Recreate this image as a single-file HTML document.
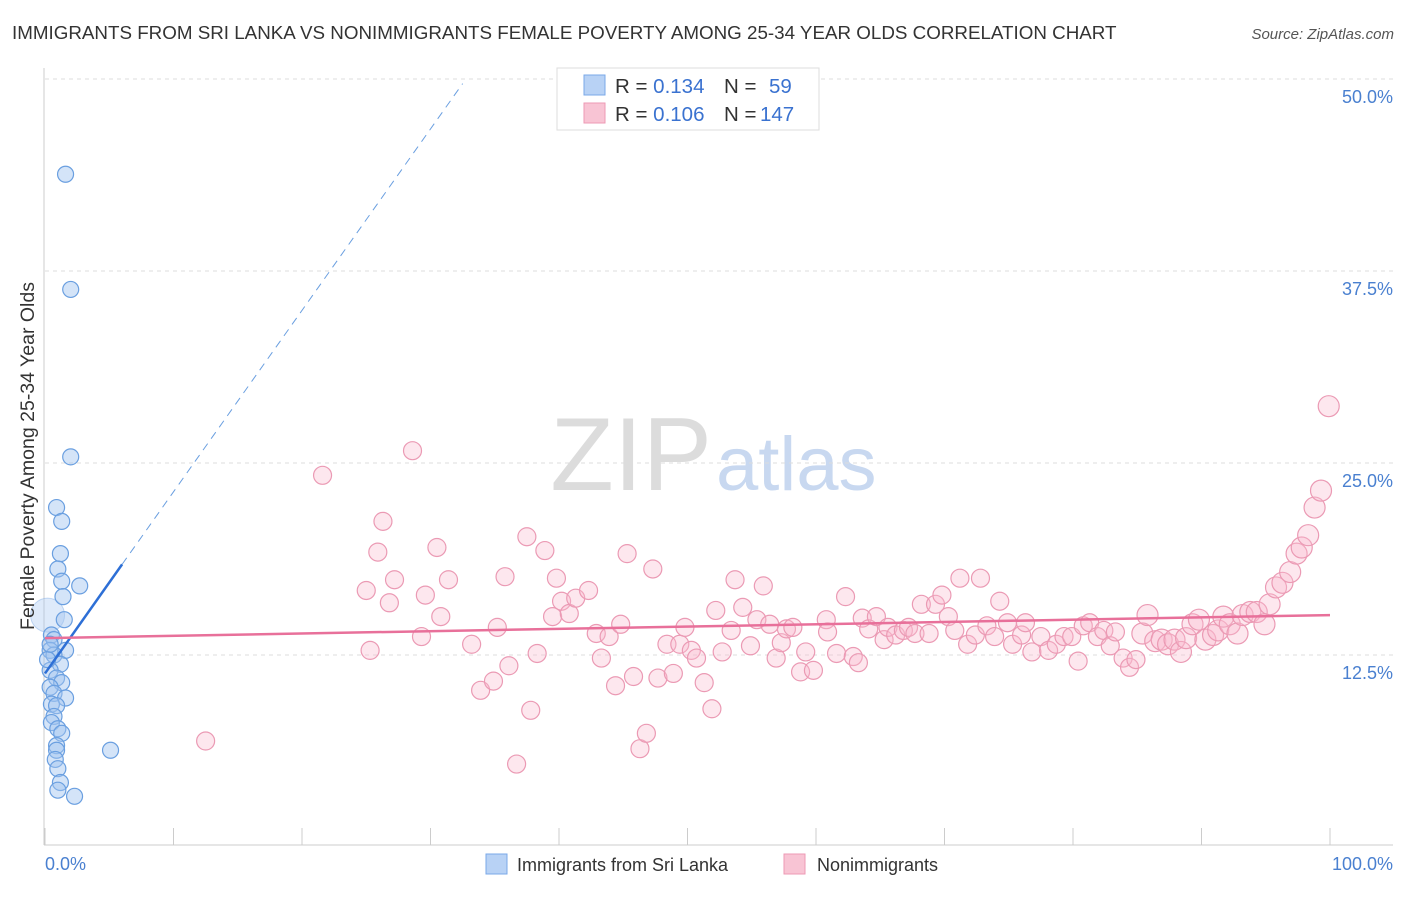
<!DOCTYPE html>
<html><head><meta charset="utf-8"><style>
body{margin:0;background:#fff;font-family:"Liberation Sans",sans-serif}
svg text{font-family:"Liberation Sans",sans-serif}
</style></head><body>
<svg id="c" width="1406" height="892">
<text x="12" y="39" font-size="18.8" fill="#333">IMMIGRANTS FROM SRI LANKA VS NONIMMIGRANTS FEMALE POVERTY AMONG 25-34 YEAR OLDS CORRELATION CHART</text>
<text x="1394" y="39" font-size="15" fill="#555" font-style="italic" text-anchor="end">Source: ZipAtlas.com</text>
<text x="712" y="490" font-size="104" fill="#dcdcdc" text-anchor="end" font-family="Liberation Serif">ZIP</text>
<text x="716" y="490" font-size="76" fill="#c8d8f0">atlas</text>
<g id="grid"></g><g id="pts"></g><g id="lines"></g>
<text transform="translate(34,456) rotate(-90)" font-size="19.5" fill="#333" text-anchor="middle">Female Poverty Among 25-34 Year Olds</text>
<text x="45" y="870" font-size="18" fill="#4a80d0">0.0%</text>
<text x="1393" y="870" font-size="18" fill="#4a80d0" text-anchor="end">100.0%</text>
<g>
<rect x="557" y="68" width="262" height="62" fill="#fff" stroke="#ddd"/>
<rect x="584" y="75" width="21" height="20" fill="#b8d2f5" stroke="#7aa8e8"/>
<rect x="584" y="103" width="21" height="20" fill="#f8c4d4" stroke="#ee9ab4"/>
<text x="615" y="93" font-size="20.5" fill="#333">R = <tspan fill="#3a72d0">0.134</tspan><tspan x="724">N =</tspan><tspan x="769" fill="#3a72d0">59</tspan></text>
<text x="615" y="121" font-size="20.5" fill="#333">R = <tspan fill="#3a72d0">0.106</tspan><tspan x="724">N =</tspan><tspan x="760" fill="#3a72d0">147</tspan></text>
</g>
<g>
<rect x="486" y="854" width="21" height="20" fill="#b8d2f5" stroke="#7aa8e8"/>
<text x="517" y="871" font-size="18" fill="#333">Immigrants from Sri Lanka</text>
<rect x="784" y="854" width="21" height="20" fill="#f8c4d4" stroke="#ee9ab4"/>
<text x="817" y="871" font-size="18" fill="#333">Nonimmigrants</text>
</g>
</svg>
<script>
const yTicks=[12.5,25,37.5,50];
const yTickLabels=["12.5%","25.0%","37.5%","50.0%"];
const xTicks=[0,10,20,30,40,50,60,70,80,90,100];
const blueX=[1.6,2.0,2.0,0.9,1.3,1.2,1.0,1.3,2.7,1.4,1.5,0.5,0.7,1.6,0.4,0.7,1.2,0.4,0.9,1.3,0.4,0.7,1.6,0.5,0.9,0.7,0.5,1.0,1.3,0.9,0.9,0.8,1.0,1.2,1.0,2.3,5.1,0.2,0.4];
const blueY=[43.8,36.3,25.4,22.1,21.2,19.1,18.1,17.3,17.0,16.3,14.8,13.8,13.5,12.8,12.8,12.5,11.9,11.5,11.0,10.7,10.4,10.0,9.7,9.3,9.2,8.5,8.1,7.7,7.4,6.6,6.3,5.7,5.1,4.2,3.7,3.3,6.3,12.2,13.2];
const blueBig=[0.2,15.1];
const pinkX=[12.5,21.6,28.6,26.3,25.9,25.0,27.2,26.8,25.3,29.3,29.6,30.5,31.4,30.8,33.2,33.9,34.9,36.1,35.2,35.8,36.7,37.5,37.8,38.3,38.9,39.5,39.8,40.2,40.8,41.3,42.3,42.9,43.3,43.9,44.8,45.3,44.4,45.8,46.3,46.8,47.3,47.7,48.4,48.9,49.4,49.8,50.3,50.7,51.3,51.9,52.2,52.7,53.7,53.4,54.3,54.9,55.4,55.9,56.4,56.9,57.3,57.7,58.2,58.8,59.2,59.8,60.8,60.9,61.6,62.3,62.9,63.3,63.6,64.1,64.7,65.3,65.6,66.2,66.8,67.2,67.7,68.2,68.8,69.3,69.8,70.3,70.8,71.2,71.8,72.4,72.8,73.3,73.9,74.3,74.9,75.3,76.0,76.3,76.8,77.5,78.1,78.7,79.3,79.9,80.4,80.8,81.3,81.9,82.4,82.9,83.3,83.9,84.4,84.9,85.4,85.8,86.4,86.9,87.4,87.9,88.4,88.8,89.3,89.8,90.3,90.9,91.3,91.7,92.2,92.8,93.2,93.8,94.3,94.9,95.3,95.8,96.3,96.9,97.4,97.8,98.3,98.8,99.3,99.9];
const pinkY=[6.9,24.2,25.8,21.2,19.2,16.7,17.4,15.9,12.8,13.7,16.4,19.5,17.4,15.0,13.2,10.2,10.8,11.8,14.3,17.6,5.4,20.2,8.9,12.6,19.3,15.0,17.5,16.0,15.2,16.2,16.7,13.9,12.3,13.7,14.5,19.1,10.5,11.1,6.4,7.4,18.1,11.0,13.2,11.3,13.2,14.3,12.8,12.3,10.7,9.0,15.4,12.7,17.4,14.1,15.6,13.1,14.8,17.0,14.5,12.3,13.3,14.2,14.3,11.4,12.7,11.5,14.8,14.0,12.6,16.3,12.4,12.0,14.9,14.2,15.0,13.5,14.3,13.8,14.1,14.3,13.9,15.8,13.9,15.8,16.4,15.0,14.1,17.5,13.2,13.8,17.5,14.4,13.7,16.0,14.6,13.2,13.8,14.6,12.7,13.7,12.8,13.2,13.7,13.7,12.1,14.4,14.6,13.7,14.1,13.1,14.0,12.3,11.7,12.2,13.9,15.1,13.4,13.5,13.2,13.5,12.7,13.6,14.5,14.8,13.5,13.8,14.1,15.0,14.5,13.9,15.1,15.3,15.3,14.5,15.8,16.9,17.2,17.9,19.1,19.5,20.3,22.1,23.2,28.7];
const blueTrend=[0,11.3,6,18.4,32.5,49.7];
const pinkTrend=[0,13.6,100,15.1];
const NS="http://www.w3.org/2000/svg";
const X=v=>45+v*12.85, Y=v=>847-v*15.36;
function mk(t,a,p){const e=document.createElementNS(NS,t);for(const k in a)e.setAttribute(k,a[k]);p.appendChild(e);return e;}
const grid=document.getElementById('grid'),pts=document.getElementById('pts'),lines=document.getElementById('lines');
yTicks.forEach((t,i)=>{
 const l=mk('line',{x1:45,x2:1393,y1:Y(t),y2:Y(t),stroke:'#ddd','stroke-dasharray':'4,4'},grid);
 
 
 const tx=mk('text',{x:1393,y:Y(t)+24,'font-size':18,fill:'#4a80d0','text-anchor':'end'},grid);
 tx.textContent=yTickLabels[i];
 
 
});
const ax=mk('line',{x1:44,x2:44,y1:68,y2:845,stroke:'#ccc'},grid);


const bx=mk('line',{x1:44,x2:1393,y1:845,y2:845,stroke:'#ccc'},grid);


xTicks.forEach(t=>{
 const l=mk('line',{x1:X(t),x2:X(t),y1:828,y2:845,stroke:'#ccc'},grid);
 
 
});
const big=mk('circle',{cx:X(blueBig[0]),cy:Y(blueBig[1]),r:17,fill:'rgba(160,195,240,0.35)',stroke:'rgba(110,160,225,0.4)'},pts);


pinkX.forEach((x,i)=>{
 const c=mk('circle',{cx:X(x),cy:Y(pinkY[i]),r:x>85?10.5:9,fill:'rgba(248,185,205,0.35)',stroke:'#eb9ab4','stroke-width':1.2},pts);
 
 
});
blueX.forEach((x,i)=>{
 const c=mk('circle',{cx:X(x),cy:Y(blueY[i]),r:8,fill:'rgba(160,195,240,0.45)',stroke:'#6a9fe0','stroke-width':1.2},pts);
 
 
});
const bl=mk('line',{x1:X(blueTrend[0]),y1:Y(blueTrend[1]),x2:X(blueTrend[2]),y2:Y(blueTrend[3]),stroke:'#2d6fd6','stroke-width':2.5},lines);


const bd=mk('line',{x1:X(blueTrend[2]),y1:Y(blueTrend[3]),x2:X(blueTrend[4]),y2:Y(blueTrend[5]),stroke:'#6a9fe0','stroke-width':1,'stroke-dasharray':'8,6'},lines);


const pl=mk('line',{x1:X(pinkTrend[0]),y1:Y(pinkTrend[1]),x2:X(pinkTrend[2]),y2:Y(pinkTrend[3]),stroke:'#e8709a','stroke-width':2.5},lines);


</script>
</body></html>
